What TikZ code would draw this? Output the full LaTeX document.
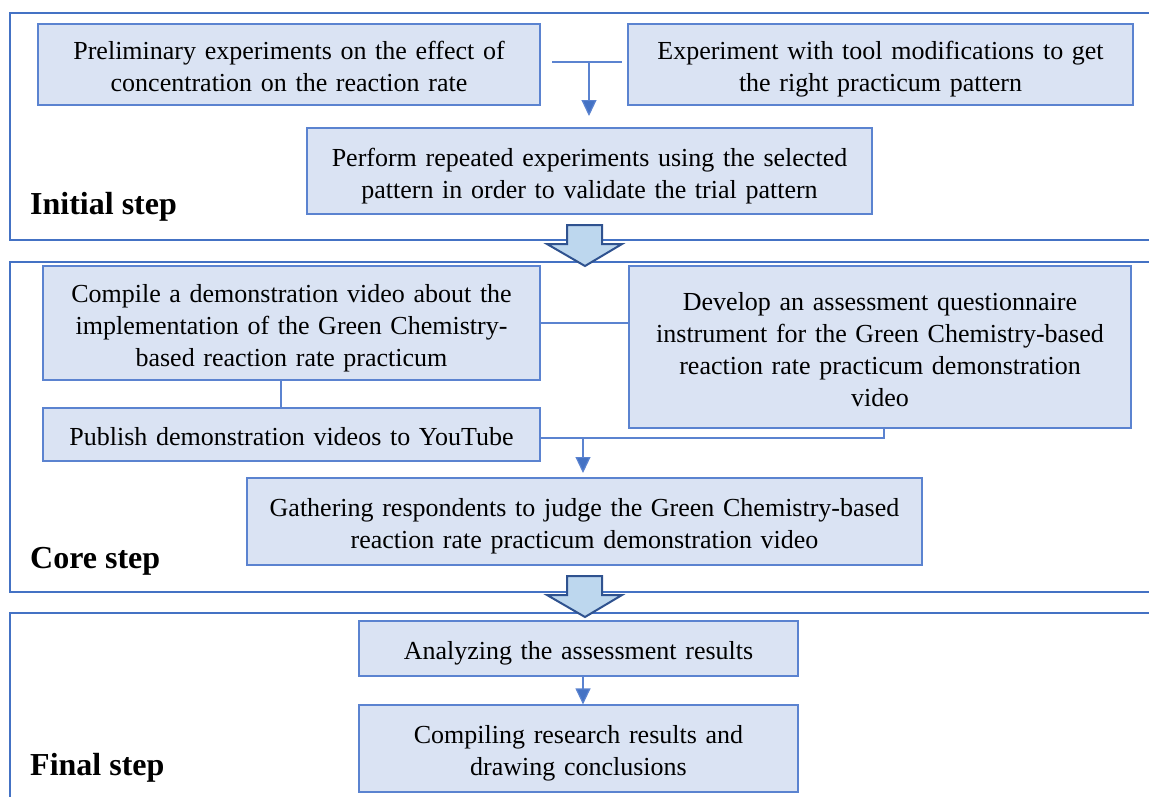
\documentclass[tikz,border=0pt]{standalone}
\usepackage{fontspec}
\setmainfont{Liberation Serif}
\usetikzlibrary{arrows.meta}
\definecolor{boxfill}{HTML}{DAE3F3}
\definecolor{boxline}{HTML}{5B83D0}
\definecolor{frameline}{HTML}{4472C4}
\definecolor{bigfill}{HTML}{BDD7EE}
\definecolor{bigline}{HTML}{2F528F}
\begin{document}
\begin{tikzpicture}[x=1pt,y=-1pt,
  box/.style={draw=boxline, line width=1.2pt, fill=boxfill, inner sep=0pt, align=center,
    font=\fontsize{26}{32}\selectfont,
    execute at begin node={\rule{0pt}{28pt}}, execute at end node={\rule[-6pt]{0pt}{6pt}}},
  frame/.style={draw=frameline, line width=2.2pt},
  conn/.style={draw=boxline, line width=1.2pt},
  tip/.style={-{Triangle[width=15pt,length=16pt,fill=frameline]}},
  big/.style={draw=bigline, line width=2pt, fill=bigfill, line join=miter},
  steplabel/.style={font=\fontsize{32}{34}\selectfont\bfseries, anchor=west, inner sep=0pt}]
\useasboundingbox (0,0) rectangle (1149,796);
\begin{scope}
\clip (0,0) rectangle (1149,796);
% frames
\draw[frame] (1170,13) -- (10,13) -- (10,240) -- (1170,240);
\draw[frame] (1170,262) -- (10,262) -- (10,592) -- (1170,592);
\draw[frame] (1170,613) -- (10,613) -- (10,810);
\end{scope}
% block arrows
\draw[big] (567,225) -- (602,225) -- (602,244) -- (622,244) -- (585,266) -- (547,244) -- (567,244) -- cycle;
\draw[big] (567,576) -- (602,576) -- (602,595) -- (622,595) -- (585,617) -- (547,595) -- (567,595) -- cycle;
% Initial step
\node[box, minimum width=502pt, minimum height=81pt, text width=490pt] (b1) at (289,64.5)
  {Preliminary experiments on the effect of\\concentration on the reaction rate};
\node[box, minimum width=505pt, minimum height=81pt, text width=490pt] (b2) at (880.5,64.5)
  {Experiment with tool modifications to get\\the right practicum pattern};
\node[box, minimum width=565pt, minimum height=86pt, text width=550pt] (b3) at (589.5,171)
  {Perform repeated experiments using the selected\\pattern in order to validate the trial pattern};
\coordinate (t1) at (552,62);
\coordinate (t2) at (622,62);
\coordinate (t3) at (589,62);
\draw[conn] (t1) -- (t2);
\draw[conn, tip] (t3) -- (589,116);
\node[steplabel] (l1) at (30,207) {Initial step};
% Core step
\node[box, minimum width=497pt, minimum height=114pt, text width=485pt] (b4) at (291.5,323)
  {Compile a demonstration video about the\\implementation of the Green Chemistry-\\based reaction rate practicum};
\node[box, minimum width=502pt, minimum height=162pt, text width=490pt] (b5) at (880,347)
  {Develop an assessment questionnaire\\instrument for the Green Chemistry-based\\reaction rate practicum demonstration\\video};
\node[box, minimum width=497pt, minimum height=53pt, text width=485pt] (b6) at (291.5,434.5)
  {Publish demonstration videos to YouTube};
\node[box, minimum width=675pt, minimum height=87pt, text width=660pt] (b7) at (584.5,521.5)
  {Gathering respondents to judge the Green Chemistry-based\\reaction rate practicum demonstration video};
\draw[conn] (b4.east |- 0,323) -- (b5.west |- 0,323);
\draw[conn] (281,0 |- b4.south) -- (281,0 |- b6.north);
\coordinate (c1) at (884,438);
\draw[conn] (b6.east |- 0,438) -- (c1) -- (c1 |- b5.south);
\coordinate (c2) at (583,438);
\draw[conn, tip] (c2) -- (583,473);
\node[steplabel] (l2) at (30,561) {Core step};
% Final step
\node[box, minimum width=439pt, minimum height=55pt, text width=425pt] (b8) at (578.5,648.5)
  {Analyzing the assessment results};
\node[box, minimum width=439pt, minimum height=87pt, text width=425pt] (b9) at (578.5,748.5)
  {Compiling research results and\\drawing conclusions};
\draw[conn, tip] (583,0 |- b8.south) -- (583,0 |- b9.north);
\node[steplabel] (l3) at (30,768) {Final step};
\end{tikzpicture}
\end{document}
